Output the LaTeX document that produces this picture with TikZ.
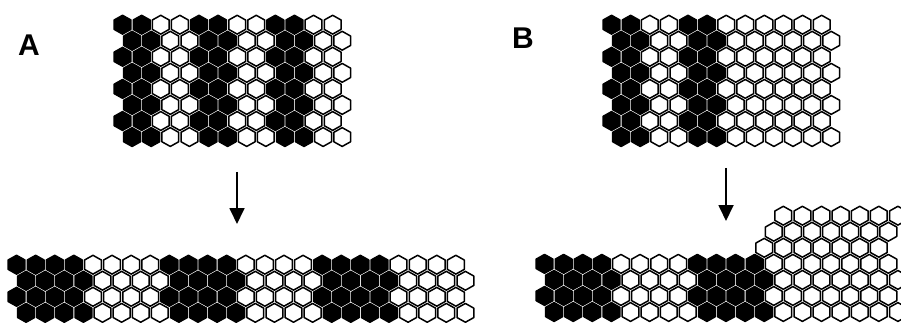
\documentclass[tikz,border=0pt]{standalone}
\usepackage{fontspec}
\setmainfont{Liberation Sans}
\usetikzlibrary{arrows.meta}
\tikzset{
    hexcell/.pic={
        \path[pic actions] (0,-9.4) -- (8.4,-4.7) -- (8.4,4.7) -- (0,9.4) -- (-8.4,4.7) -- (-8.4,-4.7) -- cycle;
    },
    blk/.style={draw=black, fill=black, line width=1.5pt, line join=round},
    wht/.style={draw=black, fill=white, line width=1.5pt, line join=round},
    lab/.style={font=\bfseries\fontsize{30}{30}\selectfont, inner sep=0pt},
    down/.style={-{Triangle[width=15pt,length=16pt]}, line width=1.8pt},
}
\begin{document}
\begin{tikzpicture}[x=1pt, y=-1pt]
    \clip (0,0) rectangle (901,323);
    \fill[white] (0,0) rectangle (901,323);
    % A: striped sheet
    \node[lab] (labA) at (29,45) {A};
    \begin{scope}[shift={(122.55,24.7)}]
        \foreach \r in {0,...,7} {
            \foreach \k in {0,...,11} {
                \pgfmathtruncatemacro\isblk{mod(\k,4)<2}
                \pgfmathsetmacro\xx{\k*19.1+mod(\r,2)*9.55}
                \ifnum\isblk=1 \pic[blk] at (\xx,\r*16.05) {hexcell};
                \else \pic[wht] at (\xx,\r*16.05) {hexcell}; \fi
            }
        }
    \end{scope}
    \coordinate (a1) at (237,172);
    \coordinate (a2) at (237,224);
    \draw[down] (a1) -- (a2);
    % A: after extension
    \begin{scope}[shift={(16.55,264.7)}]
        \foreach \r in {0,...,3} {
            \foreach \k in {0,...,23} {
                \pgfmathtruncatemacro\isblk{mod(\k,8)<4}
                \pgfmathsetmacro\xx{\k*19.1+mod(\r,2)*9.55}
                \ifnum\isblk=1 \pic[blk] at (\xx,\r*16.05) {hexcell};
                \else \pic[wht] at (\xx,\r*16.05) {hexcell}; \fi
            }
        }
    \end{scope}
    % B: stripes on the left half only
    \node[lab] (labB) at (523,38) {B};
    \begin{scope}[shift={(611.55,24.7)}]
        \foreach \r in {0,...,7} {
            \foreach \k in {0,...,11} {
                \pgfmathtruncatemacro\isblk{(mod(\k,4)<2)*(\k<6)}
                \pgfmathsetmacro\xx{\k*19.1+mod(\r,2)*9.55}
                \ifnum\isblk=1 \pic[blk] at (\xx,\r*16.05) {hexcell};
                \else \pic[wht] at (\xx,\r*16.05) {hexcell}; \fi
            }
        }
    \end{scope}
    \coordinate (b1) at (726,168);
    \coordinate (b2) at (726,221);
    \draw[down] (b1) -- (b2);
    % B: after extension, white cells pile up
    \begin{scope}[shift={(544.55,215.7)}]
        \foreach \r/\a/\b in {0/12/18, 1/12/18, 2/11/17} {
            \foreach \k in {\a,...,\b} {
                \pgfmathsetmacro\xx{\k*19.1+(1-mod(\r,2))*9.55}
                \pic[wht] at (\xx,\r*16.05) {hexcell};
            }
        }
        \foreach \r in {3,...,6} {
            \foreach \k in {0,...,18} {
                \pgfmathtruncatemacro\isblk{(mod(\k,8)<4)*(\k<12)}
                \pgfmathsetmacro\xx{\k*19.1+(1-mod(\r,2))*9.55}
                \ifnum\isblk=1 \pic[blk] at (\xx,\r*16.05) {hexcell};
                \else \pic[wht] at (\xx,\r*16.05) {hexcell}; \fi
            }
        }
    \end{scope}
\end{tikzpicture}
\end{document}
